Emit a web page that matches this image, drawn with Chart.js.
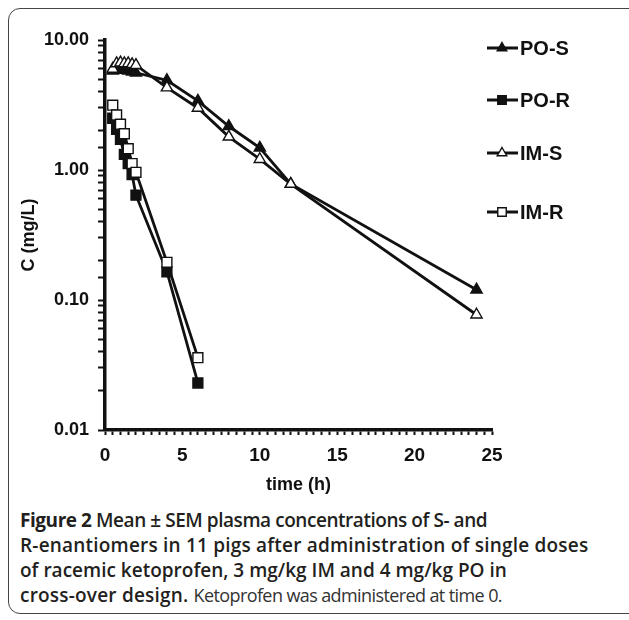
<!DOCTYPE html>
<html>
<head>
<meta charset="utf-8">
<script src="https://cdn.jsdelivr.net/npm/chart.js@4.4.1/dist/chart.umd.min.js"></script>
<style>
  body { margin: 0; background: #fff; }
  .wrap { position: relative; width: 629px; height: 620px; overflow: hidden; }
  .frame { position: absolute; left: 8px; top: 8px; width: 640px; height: 606px;
           border: 1.5px solid #444; border-radius: 12px; box-sizing: border-box; }
  canvas { position: absolute; left: 0; top: 0; }
  .caption { position: absolute; left: 20px; top: 508px; width: 605px; white-space: nowrap;
             font-family: "Open Sans", sans-serif; font-size: 19px; line-height: 25px;
             color: #231f20; font-weight: 600; }
  .caption div { height: 25px; }
  .caption b { font-weight: 700; }
  .caption span { color: #333; font-weight: 400; font-size: 18px; letter-spacing: -0.6px; }
</style>
</head>
<body>
<div class="wrap">
  <div class="frame"></div>
  <canvas id="pk" width="629" height="500"></canvas>
  <div class="caption">
    <div style="letter-spacing:-0.45px"><b>Figure 2</b> Mean ± SEM plasma concentrations of S- and</div>
    <div style="letter-spacing:0.2px">R-enantiomers in 11 pigs after administration of single doses</div>
    <div style="letter-spacing:0px">of racemic ketoprofen, 3 mg/kg IM and 4 mg/kg PO in</div>
    <div style="letter-spacing:0.2px">cross-over design. <span>Ketoprofen was administered at time 0.</span></div>
  </div>
</div>
<script>
const timesS = [0.5, 0.75, 1, 1.25, 1.5, 1.75, 2, 4, 6, 8, 10, 12, 24];
const timesR = [0.5, 0.75, 1, 1.25, 1.5, 1.75, 2, 4, 6];
const poS = [5.8, 5.9, 5.9, 5.9, 5.8, 5.7, 5.6, 4.9, 3.4, 2.17, 1.48, 0.78, 0.12];
const poR = [2.5, 2.05, 1.72, 1.32, 1.12, 0.92, 0.64, 0.165, 0.023];
const imS = [6.0, 6.6, 6.7, 6.6, 6.6, 6.5, 6.4, 4.3, 3.0, 1.8, 1.21, 0.78, 0.077];
const imR = [3.15, 2.65, 2.25, 1.9, 1.46, 1.12, 0.96, 0.195, 0.036];
const yTickLabels = [0.01, 0.1, 1, 10];
const xTickLabels = [0, 5, 10, 15, 20, 25];

function pts(t, v) { return t.map((x, i) => ({x: x, y: v[i]})); }

function series(label, t, v, shape, fill, order) {
  return {
    label: label,
    data: pts(t, v),
    borderColor: '#111',
    borderWidth: 2.8,
    pointStyle: shape,
    pointRadius: shape === 'rect' ? 7 : 6.5,
    pointBackgroundColor: fill,
    pointBorderColor: '#111',
    pointBorderWidth: 1.4,
    order: order
  };
}

const font = 'Liberation Sans, Arial, sans-serif';

// legend drawn as line + marker like the original
const lineLegend = {
  id: 'lineLegend',
  afterDraw(chart) {
    const ctx = chart.ctx;
    const rows = [48, 100, 153, 212];
    const names = ['PO-S', 'PO-R', 'IM-S', 'IM-R'];
    names.forEach((n, i) => {
      const ds = chart.data.datasets.find(d => d.label === n);
      const y = rows[i];
      ctx.save();
      ctx.strokeStyle = '#111';
      ctx.lineWidth = 3;
      ctx.beginPath();
      ctx.moveTo(487, y);
      ctx.lineTo(518, y);
      ctx.stroke();
      ctx.fillStyle = ds.pointBackgroundColor;
      ctx.lineWidth = 1.4;
      Chart.helpers.drawPoint(ctx, {pointStyle: ds.pointStyle, radius: ds.pointRadius - 1, borderWidth: 1.4}, 502, y);
      ctx.fillStyle = '#111';
      ctx.font = 'bold 20px ' + font;
      ctx.textBaseline = 'middle';
      ctx.fillText(n, 520, y + 1);
      ctx.restore();
    });
  }
};

new Chart(document.getElementById('pk'), {
  type: 'line',
  data: {
    datasets: [
      series('PO-S', timesS, poS, 'triangle', '#111', 3),
      series('PO-R', timesR, poR, 'rect', '#111', 2),
      series('IM-S', timesS, imS, 'triangle', '#fff', 1),
      series('IM-R', timesR, imR, 'rect', '#fff', 0)
    ]
  },
  options: {
    responsive: false,
    animation: false,
    devicePixelRatio: 1,
    layout: { padding: { top: 40, right: 137, bottom: 0, left: 0 } },
    plugins: { legend: { display: false }, tooltip: { enabled: false } },
    scales: {
      x: {
        type: 'linear',
        min: 0, max: 25,
        afterFit(s) { s.height = 70; },
        border: { color: '#111', width: 3.5 },
        grid: { drawOnChartArea: false, tickLength: 5, tickColor: '#111', tickWidth: 2 },
        ticks: {
          stepSize: 0.5, autoSkip: false, maxRotation: 0, padding: 9,
          color: '#111', font: { family: font, size: 19, weight: 'bold' },
          callback: v => xTickLabels.includes(v) ? String(v) : ''
        },
        title: { display: true, text: 'time (h)', color: '#111', padding: { top: 0, bottom: 4 },
                 font: { family: font, size: 18, weight: 'bold' } }
      },
      y: {
        type: 'logarithmic',
        min: 0.01, max: 10,
        afterFit(s) { s.width = 105; },
        border: { color: '#111', width: 3.5 },
        grid: { drawOnChartArea: false, tickLength: 7, tickColor: '#111', tickWidth: 2 },
        ticks: {
          autoSkip: false, padding: 9,
          color: '#111', font: { family: font, size: 18, weight: 'bold' },
          callback: v => yTickLabels.some(t => Math.abs(t - v) < t * 1e-6) ? v.toFixed(2) : ''
        },
        title: { display: true, text: 'C (mg/L)', color: '#111', padding: { top: 18, bottom: 0 },
                 font: { family: font, size: 18, weight: 'bold' } }
      }
    }
  },
  plugins: [lineLegend]
});
</script>
</body>
</html>
